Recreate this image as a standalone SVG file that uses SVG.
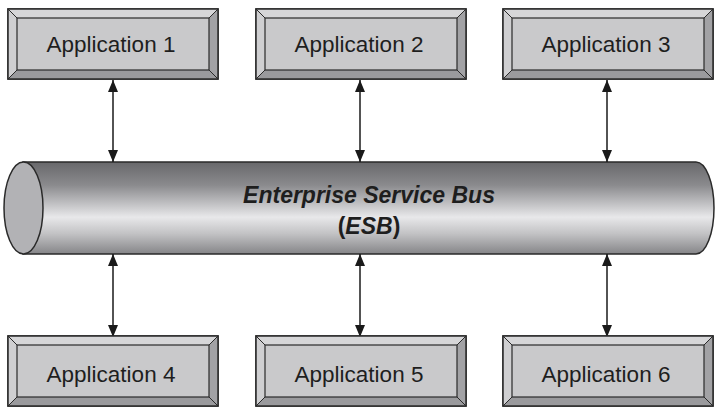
<svg xmlns="http://www.w3.org/2000/svg" width="715" height="407" viewBox="0 0 715 407">
  <defs>
    <linearGradient id="busGrad" x1="0" y1="0" x2="0" y2="1">
      <stop offset="0" stop-color="#68686b"/>
      <stop offset="0.25" stop-color="#8a8a8d"/>
      <stop offset="0.6" stop-color="#e8e8ea"/>
      <stop offset="0.78" stop-color="#c2c2c4"/>
      <stop offset="1" stop-color="#858588"/>
    </linearGradient>
    <marker id="arrow" viewBox="0 0 12 10" refX="12" refY="5" markerWidth="12" markerHeight="10" markerUnits="userSpaceOnUse" orient="auto-start-reverse">
      <path d="M0,0 L12,5 L0,10 Z" fill="#1a1a1a"/>
    </marker>
  </defs>
  <style>
    .outer { fill: #c9c9cb; stroke: #2a2a2a; stroke-width: 1.5; }
    .bevTop { fill: #d6d6d8; }
    .bevLeft { fill: #cfcfd1; }
    .bevRight { fill: #a2a2a5; }
    .bevBot { fill: #9a9a9d; }
    .inner { fill: #c9c9cb; stroke: #2a2a2a; stroke-width: 1.2; }
    .diag { stroke: #2a2a2a; stroke-width: 1; }
    .label { font-family: "Liberation Sans", Arial, sans-serif; font-size: 22.5px; fill: #1e1e1e; text-anchor: middle; }
    .bus { font-family: "Liberation Sans", Arial, sans-serif; font-size: 23px; font-weight: bold; fill: #1e1e1e; text-anchor: middle; }
    .conn { stroke: #1a1a1a; stroke-width: 1.5; fill: none; marker-start: url(#arrow); marker-end: url(#arrow); }
  </style>

  <!-- bevelled application box, reused for all six nodes -->
  <defs>
    <g id="appBox">
      <rect class="outer" x="0" y="0" width="210" height="70"/>
      <polygon class="bevTop" points="0,0 210,0 201,9 9,9"/>
      <polygon class="bevLeft" points="0,0 9,9 9,61 0,70"/>
      <polygon class="bevRight" points="210,0 210,70 201,61 201,9"/>
      <polygon class="bevBot" points="0,70 9,61 201,61 210,70"/>
      <rect class="inner" x="9" y="9" width="192" height="52"/>
      <line class="diag" x1="0" y1="0" x2="9" y2="9"/>
      <line class="diag" x1="210" y1="0" x2="201" y2="9"/>
      <line class="diag" x1="0" y1="70" x2="9" y2="61"/>
      <line class="diag" x1="210" y1="70" x2="201" y2="61"/>
      <rect x="0" y="0" width="210" height="70" fill="none" stroke="#2a2a2a" stroke-width="1.5"/>
    </g>
  </defs>

  <!-- ESB cylinder -->
  <g id="esb">
    <path d="M23,162 L696,162 A18,46 0 0 1 696,254 L23,254 Z" fill="url(#busGrad)" stroke="#2a2a2a" stroke-width="1.5"/>
    <ellipse cx="23.5" cy="208" rx="19.5" ry="46" fill="#b2b2b5" stroke="#2a2a2a" stroke-width="1.5"/>
    <text class="bus" x="369" y="203"><tspan font-style="italic">Enterprise Service Bus</tspan></text>
    <text class="bus" x="369" y="234">(<tspan font-style="italic">ESB</tspan>)</text>
  </g>

  <!-- connectors -->
  <g id="connectors">
    <line class="conn" x1="113" y1="80" x2="113" y2="162"/>
    <line class="conn" x1="360" y1="80" x2="360" y2="162"/>
    <line class="conn" x1="607" y1="80" x2="607" y2="162"/>
    <line class="conn" x1="113" y1="254" x2="113" y2="337"/>
    <line class="conn" x1="360" y1="254" x2="360" y2="337"/>
    <line class="conn" x1="607" y1="254" x2="607" y2="337"/>
  </g>

  <g id="app1">
    <use href="#appBox" x="8" y="9"/>
    <text class="label" x="111" y="52">Application 1</text>
  </g>
  <g id="app2">
    <use href="#appBox" x="256" y="9"/>
    <text class="label" x="359" y="52">Application 2</text>
  </g>
  <g id="app3">
    <use href="#appBox" x="503" y="9"/>
    <text class="label" x="606" y="52">Application 3</text>
  </g>
  <g id="app4">
    <use href="#appBox" x="8" y="336"/>
    <text class="label" x="111" y="382">Application 4</text>
  </g>
  <g id="app5">
    <use href="#appBox" x="256" y="336"/>
    <text class="label" x="359" y="382">Application 5</text>
  </g>
  <g id="app6">
    <use href="#appBox" x="503" y="336"/>
    <text class="label" x="606" y="382">Application 6</text>
  </g>
</svg>
